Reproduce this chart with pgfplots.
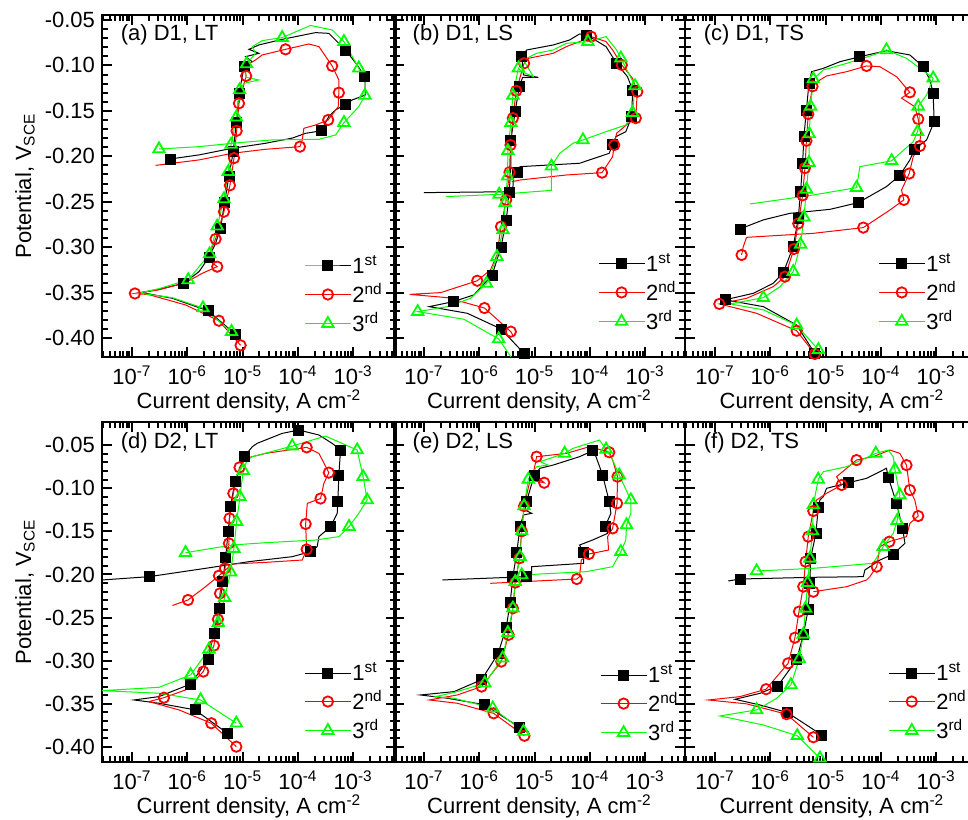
\documentclass[border=0pt]{standalone}
\usepackage{pgfplots}
\pgfplotsset{compat=1.18}
\usepackage{fontspec}
\setmainfont{Liberation Sans}
\definecolor{lgreen}{RGB}{0,255,0}

\pgfplotsset{
  legend image code/.code={\draw[mark repeat=2,mark phase=2,#1] plot coordinates {(0pt,0pt) (11.5pt,0pt) (23pt,0pt)};},
  every axis/.append style={
    scale only axis, xmode=log,
    xmin=2.87e-8,
    xtick={1e-7,1e-6,1e-5,1e-4,1e-3},
    xticklabels={10\textsuperscript{-7},10\textsuperscript{-6},10\textsuperscript{-5},10\textsuperscript{-4},10\textsuperscript{-3}},
    extra x ticks={3e-8,4e-8,5e-8,6e-8,7e-8,8e-8,9e-8,
      2e-7,3e-7,4e-7,5e-7,6e-7,7e-7,8e-7,9e-7,
      2e-6,3e-6,4e-6,5e-6,6e-6,7e-6,8e-6,9e-6,
      2e-5,3e-5,4e-5,5e-5,6e-5,7e-5,8e-5,9e-5,
      2e-4,3e-4,4e-4,5e-4,6e-4,7e-4,8e-4,9e-4,
      2e-3,3e-3,4e-3,5e-3},
    extra x tick labels={},
    extra x tick style={major tick length=3pt},
    ytick={-0.40,-0.35,-0.30,-0.25,-0.20,-0.15,-0.10,-0.05},
    minor y tick num=4,
    tick align=inside,
    major tick length=5pt, minor tick length=3pt,
    tick style={black, line width=1pt},
    axis line style={line width=1.3pt},
    tick label style={font=\fontsize{11}{13}\selectfont},
    label style={font=\fontsize{11}{13}\selectfont},
    xticklabel style={yshift=-1pt},
    xlabel={Current density, A cm\textsuperscript{-2}},
    xlabel style={at={(axis description cs:0.5,-0.131)}, anchor=center},
    legend style={draw=none, fill=none, inner sep=0pt, row sep=2.5pt, anchor=west,
      font=\fontsize{11}{13}\selectfont, nodes={inner sep=0.5pt}},
    legend cell align=left,
  },
  ca/.style={black, line width=0.5pt, mark=none},
  cb/.style={red, line width=0.5pt, mark=none},
  cc/.style={lgreen, line width=0.5pt, mark=none},
  ma/.style={black, only marks, mark=square*, mark size=2.5pt},
  mb/.style={red, only marks, mark=o, mark size=2.6pt, mark options={fill=white, line width=0.9pt}},
  mc/.style={lgreen, only marks, mark=triangle, mark size=3.3pt, mark options={fill=white, line width=0.9pt}},
}

\newcommand{\legs}{%
  \addlegendimage{ca, mark=square*, mark size=2.5pt}
  \addlegendentry{1\textsuperscript{st}}
  \addlegendimage{cb, mark=o, mark size=2.6pt, mark options={fill=white, line width=0.9pt}}
  \addlegendentry{2\textsuperscript{nd}}
  \addlegendimage{cc, mark=triangle, mark size=3.3pt, mark options={fill=white, line width=0.9pt}}
  \addlegendentry{3\textsuperscript{rd}}
}

\begin{document}
\begin{tikzpicture}
\useasboundingbox (0,0) rectangle (484pt,409.5pt);

% (a) D1, LT
\begin{axis}[width=147pt, height=171pt, xmax=5.94e-3, ymin=-0.4209, ymax=-0.0445,
  ylabel={Potential, V\textsubscript{SCE}},
  yticklabels={-0.40,-0.35,-0.30,-0.25,-0.20,-0.15,-0.10,-0.05},
  ylabel style={at={(axis description cs:-0.262,0.5)}, anchor=center},
  at={(51pt,231pt)}, anchor=south west,
  legend style={at={(axis description cs:0.687,0.181)}}]
\addplot[ca, forget plot] coordinates {(7.5e-6,-0.396) (2.36e-6,-0.370) (5.36e-7,-0.3563) (1.77e-7,-0.3508) (1.17e-7,-0.351) (3.08e-7,-0.3464) (8.5e-7,-0.340) (1.63e-6,-0.327) (2.47e-6,-0.311) (3.25e-6,-0.2958) (4.0e-6,-0.279) (4.73e-6,-0.2507) (5.66e-6,-0.222) (6.78e-6,-0.195) (7.69e-6,-0.163) (8.6e-6,-0.131) (9.6e-6,-0.116) (1.06e-5,-0.101) (1.5e-5,-0.0959) (1.13e-5,-0.0904) (1.97e-5,-0.0867) (1.3e-5,-0.0823) (1.97e-5,-0.0775) (5.2e-5,-0.0713) (2.08e-4,-0.0639) (3.63e-4,-0.0647) (7.26e-4,-0.083) (1.18e-3,-0.0995) (1.62e-3,-0.1124) (1.67e-3,-0.1325) (9.6e-4,-0.138) (7.3e-4,-0.1428) (4.8e-4,-0.149) (3.63e-4,-0.156) (2.64e-4,-0.172) (1.38e-4,-0.1747) (7.9e-5,-0.180) (2.6e-5,-0.1857) (6.5e-6,-0.1912) (1.63e-6,-0.1985) (4.86e-7,-0.203)};
\addplot[ma, forget plot] coordinates {(7.5e-6,-0.396) (2.36e-6,-0.370) (8.5e-7,-0.340) (2.47e-6,-0.311) (4.0e-6,-0.279) (4.73e-6,-0.2507) (5.66e-6,-0.222) (6.78e-6,-0.195) (7.69e-6,-0.163) (8.6e-6,-0.131) (1.06e-5,-0.101) (7.26e-4,-0.083) (1.62e-3,-0.1124) (7.3e-4,-0.1428) (2.64e-4,-0.172) (4.86e-7,-0.203)};
\addplot[cb, forget plot] coordinates {(9.2e-6,-0.408) (3.73e-6,-0.381) (9.3e-7,-0.3636) (2.03e-7,-0.3523) (1.13e-7,-0.351) (3.08e-7,-0.347) (9.3e-7,-0.339) (1.87e-6,-0.3288) (3.48e-6,-0.3215) (2.64e-6,-0.316) (2.4e-6,-0.3105) (3.25e-6,-0.291) (4.6e-6,-0.261) (5.9e-6,-0.232) (7.0e-6,-0.202) (7.8e-6,-0.172) (8.6e-6,-0.1417) (1.16e-5,-0.1116) (1.06e-5,-0.101) (1.72e-5,-0.094) (2.26e-5,-0.0885) (5.98e-5,-0.0823) (1.58e-4,-0.0764) (2.4e-4,-0.0793) (4.17e-4,-0.1006) (5.5e-4,-0.116) (5.5e-4,-0.13) (5.36e-4,-0.1454) (3.53e-4,-0.160) (2.08e-4,-0.1656) (1.28e-4,-0.1692) (1.2e-4,-0.182) (1.09e-4,-0.1894) (2.6e-5,-0.1923) (6.5e-6,-0.1967) (1.63e-6,-0.204) (2.68e-7,-0.210)};
\addplot[mb, forget plot] coordinates {(9.2e-6,-0.408) (3.73e-6,-0.381) (1.13e-7,-0.351) (3.48e-6,-0.3215) (3.25e-6,-0.291) (4.6e-6,-0.261) (5.9e-6,-0.232) (7.0e-6,-0.202) (7.8e-6,-0.172) (8.6e-6,-0.1417) (1.16e-5,-0.1116) (5.98e-5,-0.0823) (4.17e-4,-0.1006) (5.5e-4,-0.13) (3.53e-4,-0.160) (1.09e-4,-0.1894)};
\addplot[cc, forget plot] coordinates {(6.3e-6,-0.393) (1.92e-6,-0.367) (5.36e-7,-0.3556) (1.54e-7,-0.351) (1.25e-7,-0.351) (3.08e-7,-0.3457) (1.04e-6,-0.336) (2.53e-6,-0.3076) (3.48e-6,-0.277) (4.6e-6,-0.247) (5.5e-6,-0.217) (6.2e-6,-0.187) (7.7e-6,-0.157) (8.8e-6,-0.127) (1.06e-5,-0.1197) (1.97e-5,-0.116) (1.13e-5,-0.113) (1.18e-5,-0.0984) (1.72e-5,-0.0867) (1.5e-5,-0.0793) (2.26e-5,-0.0727) (5.2e-5,-0.0694) (1.69e-4,-0.056) (4.17e-4,-0.061) (6.8e-4,-0.0738) (1.26e-3,-0.103) (1.67e-3,-0.1197) (1.63e-3,-0.133) (1.26e-3,-0.1454) (6.8e-4,-0.163) (4.8e-4,-0.1766) (2.4e-4,-0.1813) (3.44e-5,-0.182) (8.6e-6,-0.185) (1.63e-6,-0.1894) (3.08e-7,-0.192)};
\addplot[mc, forget plot] coordinates {(6.3e-6,-0.393) (1.92e-6,-0.367) (1.04e-6,-0.336) (2.53e-6,-0.3076) (3.48e-6,-0.277) (4.6e-6,-0.247) (5.5e-6,-0.217) (6.2e-6,-0.187) (7.7e-6,-0.157) (8.8e-6,-0.127) (1.18e-5,-0.0984) (5.2e-5,-0.0694) (6.8e-4,-0.0738) (1.26e-3,-0.103) (1.63e-3,-0.133) (6.8e-4,-0.163) (3.08e-7,-0.192)};
\legs
\node[anchor=west, font=\fontsize{11}{13}\selectfont] at (rel axis cs:0.04,0.942) {(a) D1, LT};
\end{axis}

% (b) D1, LS
\begin{axis}[width=145.5pt, height=171pt, xmax=5.25e-3, ymin=-0.4209, ymax=-0.0445,
  yticklabels={}, at={(197pt,231pt)}, anchor=south west,
  legend style={at={(axis description cs:0.70,0.187)}}]
\addplot[ca, forget plot] coordinates {(7.2e-6,-0.4223) (6.45e-6,-0.417) (2.47e-6,-0.390) (6.07e-7,-0.3728) (1.25e-7,-0.3655) (3.36e-7,-0.360) (7.98e-7,-0.3526) (1.7e-6,-0.331) (2.47e-6,-0.300) (3.07e-6,-0.271) (3.48e-6,-0.240) (3.72e-6,-0.2114) (3.72e-6,-0.182) (4.46e-6,-0.151) (5.3e-6,-0.1226) (6.1e-6,-0.1131) (1.17e-5,-0.1131) (6.28e-6,-0.1105) (5.86e-6,-0.090) (7.2e-6,-0.083) (2.17e-5,-0.0775) (4.3e-5,-0.072) (6.5e-5,-0.0654) (8.8e-5,-0.0665) (1.96e-4,-0.0793) (3.04e-4,-0.0977) (4.79e-4,-0.1124) (5.9e-4,-0.127) (5.75e-4,-0.156) (4.47e-4,-0.1729) (2.96e-4,-0.1784) (2.58e-4,-0.1865) (2.24e-4,-0.1967) (6.5e-5,-0.2077) (5.47e-6,-0.2114) (4.9e-6,-0.2173) (4.16e-6,-0.2224) (4.05e-6,-0.2353) (3.63e-6,-0.239) (1.0e-7,-0.240)};
\addplot[ma, forget plot] coordinates {(6.45e-6,-0.417) (2.47e-6,-0.390) (3.36e-7,-0.360) (1.7e-6,-0.331) (2.47e-6,-0.300) (3.07e-6,-0.271) (3.48e-6,-0.240) (3.72e-6,-0.182) (4.46e-6,-0.151) (5.3e-6,-0.1226) (5.86e-6,-0.090) (8.8e-5,-0.0665) (3.04e-4,-0.0977) (5.9e-4,-0.127) (5.75e-4,-0.156) (2.58e-4,-0.1865) (4.9e-6,-0.2173)};
\addplot[cb, forget plot] coordinates {(4.16e-6,-0.3985) (3.72e-6,-0.393) (1.24e-6,-0.367) (2.65e-7,-0.3556) (5.5e-8,-0.352) (2.02e-7,-0.350) (9.2e-7,-0.337) (1.59e-6,-0.3251) (2.09e-6,-0.3086) (2.47e-6,-0.2774) (3.07e-6,-0.248) (3.52e-6,-0.2176) (3.67e-6,-0.1876) (4.05e-6,-0.158) (4.65e-6,-0.128) (6.46e-6,-0.0977) (7.7e-6,-0.0922) (2.17e-5,-0.0867) (3.76e-5,-0.0793) (6.5e-5,-0.0738) (1.05e-4,-0.0683) (1.96e-4,-0.0738) (2.58e-4,-0.083) (3.78e-4,-0.0995) (5.9e-4,-0.1142) (7.2e-4,-0.1289) (6.76e-4,-0.158) (4.79e-4,-0.1645) (3.04e-4,-0.1747) (2.76e-4,-0.1876) (2.58e-4,-0.2004) (1.66e-4,-0.218) (3.76e-5,-0.2206) (5.47e-6,-0.2261) (3.88e-6,-0.228)};
\addplot[mb, forget plot] coordinates {(3.72e-6,-0.393) (1.24e-6,-0.367) (9.2e-7,-0.337) (2.47e-6,-0.2774) (3.07e-6,-0.248) (3.52e-6,-0.2176) (3.67e-6,-0.1876) (4.05e-6,-0.158) (4.65e-6,-0.128) (6.46e-6,-0.0977) (1.05e-4,-0.0683) (3.78e-4,-0.0995) (7.2e-4,-0.1289) (6.76e-4,-0.158) (2.76e-4,-0.1876) (1.66e-4,-0.218)};
\addplot[cc, forget plot] coordinates {(3.88e-6,-0.4223) (2.24e-6,-0.401) (5.28e-7,-0.3794) (7.7e-8,-0.371) (2.65e-7,-0.3655) (6.95e-7,-0.3563) (1.35e-6,-0.34) (2.09e-6,-0.3105) (2.68e-6,-0.281) (2.95e-6,-0.251) (3.25e-6,-0.222) (3.29e-6,-0.194) (3.72e-6,-0.163) (4.05e-6,-0.133) (5.1e-6,-0.103) (5.86e-6,-0.1069) (9.5e-6,-0.1124) (6.28e-6,-0.094) (1.09e-5,-0.0867) (2.17e-5,-0.083) (3.76e-5,-0.0757) (9.2e-5,-0.0738) (1.96e-4,-0.0683) (3.04e-4,-0.083) (3.63e-4,-0.092) (6.56e-4,-0.1226) (5.9e-4,-0.152) (4.47e-4,-0.1656) (1.96e-4,-0.1729) (7.5e-5,-0.182) (4.94e-5,-0.1857) (2.85e-5,-0.1967) (2.02e-5,-0.211) (2.02e-5,-0.2375) (2.29e-6,-0.2419) (2.48e-7,-0.2444)};
\addplot[mc, forget plot] coordinates {(2.24e-6,-0.401) (7.7e-8,-0.371) (1.35e-6,-0.34) (2.09e-6,-0.3105) (2.68e-6,-0.281) (2.95e-6,-0.251) (3.25e-6,-0.222) (3.29e-6,-0.194) (3.72e-6,-0.163) (4.05e-6,-0.133) (5.1e-6,-0.103) (9.2e-5,-0.0738) (3.63e-4,-0.092) (6.56e-4,-0.1226) (5.9e-4,-0.152) (7.5e-5,-0.182) (2.02e-5,-0.211) (2.29e-6,-0.2419)};
\legs
\node[anchor=west, font=\fontsize{11}{13}\selectfont] at (rel axis cs:0.04,0.942) {(b) D1, LS};
\end{axis}

% (c) D1, TS
\begin{axis}[width=147pt, height=171pt, xmax=5.94e-3, ymin=-0.4209, ymax=-0.0445,
  yticklabels={}, at={(342.5pt,231pt)}, anchor=south west,
  legend style={at={(axis description cs:0.656,0.187)}}]
\addplot[ca, forget plot] coordinates {(6.4e-6,-0.417) (2.99e-6,-0.3857) (7.5e-7,-0.3655) (1.52e-7,-0.358) (4.93e-7,-0.3508) (1.13e-6,-0.3398) (1.72e-6,-0.328) (2.6e-6,-0.2995) (3.2e-6,-0.268) (3.53e-6,-0.239) (3.84e-6,-0.2077) (4.06e-6,-0.178) (4.5e-6,-0.149) (5.0e-6,-0.1197) (5.58e-6,-0.1069) (9.1e-6,-0.1032) (1.82e-5,-0.0959) (4.17e-5,-0.0904) (1.26e-4,-0.0838) (3.34e-4,-0.0885) (5.82e-4,-0.1014) (7.7e-4,-0.116) (8.8e-4,-0.1307) (9.2e-4,-0.162) (6.7e-4,-0.182) (4.1e-4,-0.192) (3.34e-4,-0.204) (2.2e-4,-0.221) (1.26e-4,-0.2334) (3.9e-5,-0.251) (1.2e-5,-0.2584) (2.26e-6,-0.2628) (7.5e-7,-0.270) (2.83e-7,-0.280)};
\addplot[ma, forget plot] coordinates {(6.4e-6,-0.417) (1.52e-7,-0.358) (1.72e-6,-0.328) (2.6e-6,-0.2995) (3.2e-6,-0.268) (3.53e-6,-0.239) (3.84e-6,-0.2077) (4.06e-6,-0.178) (4.5e-6,-0.149) (5.0e-6,-0.1197) (4.17e-5,-0.0904) (5.82e-4,-0.1014) (8.8e-4,-0.1307) (9.2e-4,-0.162) (4.1e-4,-0.192) (2.2e-4,-0.221) (3.9e-5,-0.251) (2.83e-7,-0.280)};
\addplot[cb, forget plot] coordinates {(6.4e-6,-0.4176) (3.0e-6,-0.392) (5.66e-7,-0.3728) (1.2e-7,-0.3625) (3.73e-7,-0.3563) (1.13e-6,-0.3435) (1.84e-6,-0.3325) (2.68e-6,-0.302) (3.2e-6,-0.274) (3.84e-6,-0.243) (4.23e-6,-0.213) (4.5e-6,-0.183) (4.86e-6,-0.1535) (5.8e-6,-0.123) (7.9e-6,-0.116) (1.04e-5,-0.1116) (2.4e-5,-0.1069) (5.5e-5,-0.1006) (9.6e-5,-0.1014) (1.92e-4,-0.1124) (3.34e-4,-0.1296) (2.36e-4,-0.136) (4.1e-4,-0.1454) (4.73e-4,-0.159) (5.2e-4,-0.1747) (5.07e-4,-0.1887) (3.84e-4,-0.2004) (3.25e-4,-0.219) (2.36e-4,-0.2371) (2.6e-4,-0.248) (1.46e-4,-0.2591) (4.8e-5,-0.2785) (6.0e-6,-0.2848) (3.73e-7,-0.2892) (3.25e-7,-0.2995) (3.03e-7,-0.3086)};
\addplot[mb, forget plot] coordinates {(6.4e-6,-0.4176) (3.0e-6,-0.392) (1.2e-7,-0.3625) (1.84e-6,-0.3325) (2.68e-6,-0.302) (3.2e-6,-0.274) (3.84e-6,-0.243) (4.23e-6,-0.213) (4.5e-6,-0.183) (4.86e-6,-0.1535) (5.8e-6,-0.123) (5.5e-5,-0.1006) (3.34e-4,-0.1296) (4.73e-4,-0.159) (5.07e-4,-0.1887) (3.25e-4,-0.219) (2.6e-4,-0.248) (4.8e-5,-0.2785) (3.03e-7,-0.3086)};
\addplot[cc, forget plot] coordinates {(7.4e-6,-0.413) (3.0e-6,-0.386) (7.5e-7,-0.369) (1.87e-7,-0.3625) (7.5e-7,-0.3556) (1.5e-6,-0.3435) (2.6e-6,-0.327) (3.53e-6,-0.297) (4.06e-6,-0.267) (4.5e-6,-0.2364) (5.0e-6,-0.207) (5.07e-6,-0.1755) (5.36e-6,-0.145) (6.0e-6,-0.115) (9.1e-6,-0.105) (2.4e-5,-0.0977) (7.26e-5,-0.0885) (1.26e-4,-0.083) (2.91e-4,-0.0922) (8.8e-4,-0.114) (6.7e-4,-0.1325) (4.73e-4,-0.145) (5.07e-4,-0.160) (4.6e-4,-0.173) (3.84e-4,-0.1839) (1.56e-4,-0.205) (4.17e-5,-0.2114) (3.63e-5,-0.2345) (6.0e-6,-0.2426) (4.3e-7,-0.2525)};
\addplot[mc, forget plot] coordinates {(7.4e-6,-0.413) (3.0e-6,-0.386) (7.5e-7,-0.3556) (2.6e-6,-0.327) (3.53e-6,-0.297) (4.06e-6,-0.267) (4.5e-6,-0.2364) (5.0e-6,-0.207) (5.07e-6,-0.1755) (5.36e-6,-0.145) (6.0e-6,-0.115) (1.26e-4,-0.083) (8.8e-4,-0.114) (4.73e-4,-0.145) (4.6e-4,-0.173) (1.56e-4,-0.205) (3.63e-5,-0.2345)};
\legs
\node[anchor=west, font=\fontsize{11}{13}\selectfont] at (rel axis cs:0.04,0.942) {(c) D1, TS};
\end{axis}

% (d) D2, LT
\begin{axis}[width=147pt, height=170pt, xmax=5.94e-3, ymin=-0.4174, ymax=-0.0233,
  ylabel={Potential, V\textsubscript{SCE}},
  yticklabels={-0.40,-0.35,-0.30,-0.25,-0.20,-0.15,-0.10,-0.05},
  ylabel style={at={(axis description cs:-0.262,0.5)}, anchor=center},
  at={(51pt,28.5pt)}, anchor=south west,
  legend style={at={(axis description cs:0.687,0.176)}}]
\addplot[ca, forget plot] coordinates {(5.3e-6,-0.384) (1.38e-6,-0.357) (3.08e-7,-0.3493) (1.09e-7,-0.3455) (3.08e-7,-0.3416) (1.15e-6,-0.327) (2.36e-6,-0.299) (3.03e-6,-0.268) (3.73e-6,-0.239) (4.4e-6,-0.208) (4.93e-6,-0.180) (5.5e-6,-0.150) (6.07e-6,-0.1207) (7.3e-6,-0.0917) (1.1e-5,-0.0627) (1.5e-5,-0.0519) (1.84e-5,-0.048) (5.2e-5,-0.0365) (1.04e-4,-0.0326) (2.4e-4,-0.0384) (4.17e-4,-0.0481) (5.9e-4,-0.0558) (5.5e-4,-0.085) (5.28e-4,-0.115) (5.14e-4,-0.1292) (3.9e-4,-0.1446) (2.4e-4,-0.1562) (2.23e-4,-0.1678) (1.69e-4,-0.1736) (7.9e-5,-0.1794) (1.3e-5,-0.1852) (2.14e-6,-0.1929) (2.03e-7,-0.2026) (2.9e-8,-0.2064)};
\addplot[ma, forget plot] coordinates {(5.3e-6,-0.384) (1.38e-6,-0.357) (1.15e-6,-0.327) (2.36e-6,-0.299) (3.03e-6,-0.268) (3.73e-6,-0.239) (4.4e-6,-0.208) (4.93e-6,-0.180) (5.5e-6,-0.150) (6.07e-6,-0.1207) (7.3e-6,-0.0917) (1.1e-5,-0.0627) (1.04e-4,-0.0326) (5.9e-4,-0.0558) (5.5e-4,-0.085) (5.28e-4,-0.115) (3.9e-4,-0.1446) (1.69e-4,-0.1736) (2.03e-7,-0.2026)};
\addplot[cb, forget plot] coordinates {(7.7e-6,-0.3996) (2.72e-6,-0.3725) (7.06e-7,-0.357) (2.03e-7,-0.3474) (3.79e-7,-0.3428) (9.3e-7,-0.3339) (1.95e-6,-0.3126) (3.03e-6,-0.2825) (3.58e-6,-0.252) (3.9e-6,-0.222) (4.8e-6,-0.193) (5.66e-6,-0.164) (5.8e-6,-0.135) (6.8e-6,-0.106) (8.8e-6,-0.0759) (1.13e-5,-0.0654) (2.6e-5,-0.0597) (1.44e-4,-0.0527) (2.4e-4,-0.0597) (3.63e-4,-0.082) (2.95e-4,-0.0944) (2.57e-4,-0.112) (1.48e-4,-0.1176) (1.38e-4,-0.1415) (1.44e-4,-0.171) (1.2e-4,-0.1833) (2.6e-5,-0.186) (6.5e-6,-0.1879) (3.73e-6,-0.2015) (2.14e-6,-0.2142) (1.03e-6,-0.2296) (5.4e-7,-0.236)};
\addplot[mb, forget plot] coordinates {(7.7e-6,-0.3996) (2.72e-6,-0.3725) (3.79e-7,-0.3428) (1.95e-6,-0.3126) (3.03e-6,-0.2825) (3.58e-6,-0.252) (3.9e-6,-0.222) (4.8e-6,-0.193) (5.66e-6,-0.164) (5.8e-6,-0.135) (6.8e-6,-0.106) (8.8e-6,-0.0759) (1.44e-4,-0.0527) (3.63e-4,-0.082) (2.57e-4,-0.112) (1.38e-4,-0.1415) (1.44e-4,-0.171) (3.73e-6,-0.2015) (1.03e-6,-0.2296)};
\addplot[cc, forget plot] coordinates {(7.7e-6,-0.3725) (1.74e-6,-0.3455) (3.08e-7,-0.3377) (2.9e-8,-0.3347) (3.08e-7,-0.3308) (1.15e-6,-0.3165) (2.47e-6,-0.2868) (3.63e-6,-0.256) (4.73e-6,-0.227) (6.07e-6,-0.1975) (6.97e-6,-0.17) (7.8e-6,-0.1388) (8.95e-6,-0.11) (1.03e-5,-0.0797) (1.21e-5,-0.0674) (1.5e-5,-0.0635) (7.9e-5,-0.0512) (3.16e-4,-0.0396) (1.18e-3,-0.0558) (1.51e-3,-0.0867) (1.79e-3,-0.1137) (1.26e-3,-0.1292) (8.4e-4,-0.1446) (5.5e-4,-0.1562) (2.08e-4,-0.1601) (2.6e-5,-0.1632) (6.5e-6,-0.1659) (9.3e-7,-0.1748)};
\addplot[mc, forget plot] coordinates {(7.7e-6,-0.3725) (1.74e-6,-0.3455) (1.15e-6,-0.3165) (2.47e-6,-0.2868) (3.63e-6,-0.256) (4.73e-6,-0.227) (6.07e-6,-0.1975) (6.97e-6,-0.17) (7.8e-6,-0.1388) (8.95e-6,-0.11) (1.03e-5,-0.0797) (7.9e-5,-0.0512) (1.18e-3,-0.0558) (1.51e-3,-0.0867) (1.79e-3,-0.1137) (8.4e-4,-0.1446) (9.3e-7,-0.1748)};
\legs
\node[anchor=west, font=\fontsize{11}{13}\selectfont] at (rel axis cs:0.04,0.938) {(d) D2, LT};
\end{axis}

% (e) D2, LS
\begin{axis}[width=145.5pt, height=170pt, xmax=5.25e-3, ymin=-0.4174, ymax=-0.0233,
  yticklabels={}, at={(197pt,28.5pt)}, anchor=south west,
  legend style={at={(axis description cs:0.707,0.17)}}]
\addplot[ca, forget plot] coordinates {(5.3e-6,-0.377) (1.24e-6,-0.351) (2.65e-7,-0.3435) (8.6e-8,-0.3397) (3.5e-7,-0.3358) (1.1e-6,-0.322) (2.18e-6,-0.292) (3.07e-6,-0.2617) (3.63e-6,-0.232) (4.05e-6,-0.2026) (4.77e-6,-0.1744) (5.47e-6,-0.1439) (6.28e-6,-0.1311) (8.85e-6,-0.1292) (6.7e-6,-0.1253) (7.2e-6,-0.115) (9.8e-6,-0.0855) (1.25e-5,-0.077) (2.17e-5,-0.0732) (6.5e-5,-0.0635) (1.13e-4,-0.0566) (1.29e-4,-0.0635) (1.7e-4,-0.0848) (2.24e-4,-0.1157) (2.4e-4,-0.1292) (1.9e-4,-0.1439) (2.09e-4,-0.1524) (1.13e-4,-0.160) (6.5e-5,-0.1659) (7.7e-5,-0.1744) (7.7e-5,-0.1871) (8.85e-6,-0.191) (8.85e-6,-0.1987) (7.2e-6,-0.2026) (2.16e-7,-0.2064)};
\addplot[ma, forget plot] coordinates {(5.3e-6,-0.377) (1.24e-6,-0.351) (1.1e-6,-0.322) (2.18e-6,-0.292) (3.07e-6,-0.2617) (3.63e-6,-0.232) (4.05e-6,-0.2026) (4.77e-6,-0.1744) (5.47e-6,-0.1439) (7.2e-6,-0.115) (9.8e-6,-0.0855) (1.13e-4,-0.0566) (1.7e-4,-0.0848) (2.24e-4,-0.1157) (1.9e-4,-0.1439) (7.7e-5,-0.1744) (7.2e-6,-0.2026)};
\addplot[cb, forget plot] coordinates {(6.55e-6,-0.387) (1.82e-6,-0.361) (4.0e-7,-0.3493) (1.25e-7,-0.3455) (4.0e-7,-0.3397) (1.1e-6,-0.33) (2.5e-6,-0.301) (3.39e-6,-0.27) (4.05e-6,-0.2393) (4.47e-6,-0.2095) (5.3e-6,-0.1813) (5.86e-6,-0.150) (6.46e-6,-0.1207) (8.3e-6,-0.0906) (1.49e-5,-0.0937) (9.5e-6,-0.0828) (1.09e-5,-0.0635) (3.76e-5,-0.0597) (9.8e-5,-0.0519) (2.24e-4,-0.0584) (2.58e-4,-0.0674) (3.16e-4,-0.0867) (3.1e-4,-0.1176) (2.58e-4,-0.1466) (2.09e-4,-0.1562) (2.18e-4,-0.1717) (9.6e-5,-0.1763) (7.0e-5,-0.1833) (6.5e-5,-0.2026) (5.8e-5,-0.2053) (1.58e-6,-0.2103)};
\addplot[mb, forget plot] coordinates {(6.55e-6,-0.387) (1.82e-6,-0.361) (1.1e-6,-0.33) (2.5e-6,-0.301) (3.39e-6,-0.27) (4.05e-6,-0.2393) (4.47e-6,-0.2095) (5.3e-6,-0.1813) (5.86e-6,-0.150) (6.46e-6,-0.1207) (1.49e-5,-0.0937) (1.09e-5,-0.0635) (2.24e-4,-0.0584) (3.16e-4,-0.0867) (3.1e-4,-0.1176) (2.58e-4,-0.1466) (9.6e-5,-0.1763) (5.8e-5,-0.2053)};
\addplot[cc, forget plot] coordinates {(6.3e-6,-0.382) (1.75e-6,-0.355) (3.5e-7,-0.3435) (1.64e-7,-0.3416) (4.0e-7,-0.3358) (1.26e-6,-0.326) (2.64e-6,-0.297) (3.29e-6,-0.2675) (4.05e-6,-0.239) (4.46e-6,-0.2084) (5.47e-6,-0.1794) (5.86e-6,-0.1497) (6.46e-6,-0.1207) (7.7e-6,-0.0898) (1.09e-5,-0.0751) (1.76e-5,-0.0732) (1.25e-5,-0.0693) (3.5e-5,-0.0597) (4.94e-5,-0.0539) (1.49e-4,-0.0442) (1.96e-4,-0.055) (2.58e-4,-0.0674) (3.39e-4,-0.0848) (5.5e-4,-0.1137) (5.5e-4,-0.1292) (4.6e-4,-0.1427) (4.47e-4,-0.160) (3.63e-4,-0.1736) (2.58e-4,-0.191) (8.6e-5,-0.1968) (5.86e-6,-0.2006)};
\addplot[mc, forget plot] coordinates {(6.3e-6,-0.382) (1.75e-6,-0.355) (1.26e-6,-0.326) (2.64e-6,-0.297) (3.29e-6,-0.2675) (4.05e-6,-0.239) (4.46e-6,-0.2084) (5.47e-6,-0.1794) (5.86e-6,-0.1497) (6.46e-6,-0.1207) (7.7e-6,-0.0898) (3.5e-5,-0.0597) (1.96e-4,-0.055) (3.39e-4,-0.0848) (5.5e-4,-0.1137) (4.6e-4,-0.1427) (3.63e-4,-0.1736) (5.86e-6,-0.2006)};
\legs
\node[anchor=west, font=\fontsize{11}{13}\selectfont] at (rel axis cs:0.04,0.938) {(e) D2, LS};
\end{axis}

% (f) D2, TS
\begin{axis}[width=147pt, height=170pt, xmax=5.94e-3, ymin=-0.4174, ymax=-0.0233,
  yticklabels={}, at={(342.5pt,28.5pt)}, anchor=south west,
  legend style={at={(axis description cs:0.69,0.176)}}]
\addplot[ca, forget plot] coordinates {(8.5e-6,-0.386) (2.03e-6,-0.36) (6.5e-7,-0.3513) (2.3e-7,-0.3447) (6.5e-7,-0.3378) (1.36e-6,-0.3293) (2.99e-6,-0.299) (3.95e-6,-0.270) (4.86e-6,-0.2404) (5.2e-6,-0.2103) (5.36e-6,-0.1813) (6.68e-6,-0.1524) (7.36e-6,-0.1226) (7.9e-6,-0.1137) (9.1e-6,-0.1099) (1.04e-5,-0.1002) (2.57e-5,-0.0937) (5.5e-5,-0.0886) (1.26e-4,-0.077) (1.36e-4,-0.0875) (1.92e-4,-0.1176) (2.47e-4,-0.1466) (2.72e-4,-0.164) (1.67e-4,-0.1763) (9.6e-5,-0.1833) (5.14e-5,-0.1948) (4.8e-5,-0.2026) (6.0e-6,-0.2033) (2.83e-7,-0.2053) (1.74e-7,-0.2076)};
\addplot[ma, forget plot] coordinates {(8.5e-6,-0.386) (2.03e-6,-0.36) (1.36e-6,-0.3293) (2.99e-6,-0.299) (3.95e-6,-0.270) (4.86e-6,-0.2404) (5.2e-6,-0.2103) (5.36e-6,-0.1813) (6.68e-6,-0.1524) (7.36e-6,-0.1226) (2.57e-5,-0.0937) (1.36e-4,-0.0875) (1.92e-4,-0.1176) (2.47e-4,-0.1466) (1.67e-4,-0.1763) (2.83e-7,-0.2053)};
\addplot[cb, forget plot] coordinates {(6.0e-6,-0.3887) (1.97e-6,-0.362) (3.73e-7,-0.350) (7.6e-8,-0.3455) (2.83e-7,-0.3416) (8.4e-7,-0.333) (2.1e-6,-0.303) (2.79e-6,-0.2733) (3.3e-6,-0.2431) (3.95e-6,-0.2141) (4.35e-6,-0.1852) (4.86e-6,-0.1562) (6.0e-6,-0.1265) (6.87e-6,-0.1137) (1.04e-5,-0.106) (1.95e-5,-0.0963) (1.58e-5,-0.0867) (3.63e-5,-0.0674) (7.26e-5,-0.0635) (1.46e-4,-0.0558) (2.2e-4,-0.0597) (2.9e-4,-0.0733) (3.34e-4,-0.1022) (4.1e-4,-0.1137) (4.73e-4,-0.1323) (3.34e-4,-0.1408) (2.9e-4,-0.1562) (1.42e-4,-0.162) (9.6e-5,-0.1678) (8.4e-5,-0.191) (6.3e-5,-0.2026) (5.5e-5,-0.2064) (2.4e-5,-0.2142) (6.0e-6,-0.22)};
\addplot[mb, forget plot] coordinates {(6.0e-6,-0.3887) (1.97e-6,-0.362) (8.4e-7,-0.333) (2.1e-6,-0.303) (2.79e-6,-0.2733) (3.3e-6,-0.2431) (3.95e-6,-0.2141) (4.35e-6,-0.1852) (4.86e-6,-0.1562) (6.0e-6,-0.1265) (1.95e-5,-0.0963) (3.63e-5,-0.0674) (2.9e-4,-0.0733) (3.34e-4,-0.1022) (4.73e-4,-0.1323) (1.42e-4,-0.162) (8.4e-5,-0.191) (6.0e-6,-0.22)};
\addplot[cc, forget plot] coordinates {(7.9e-6,-0.413) (3.08e-6,-0.387) (7.5e-7,-0.3745) (1.23e-7,-0.364) (5.66e-7,-0.357) (1.3e-6,-0.3436) (2.36e-6,-0.328) (3.34e-6,-0.298) (3.95e-6,-0.2694) (4.35e-6,-0.2393) (4.73e-6,-0.2095) (5.2e-6,-0.1813) (5.8e-6,-0.1497) (6.0e-6,-0.1195) (7.36e-6,-0.0898) (9.1e-6,-0.0809) (2.4e-5,-0.0751) (8.1e-5,-0.0597) (1.36e-4,-0.0558) (1.67e-4,-0.0635) (1.79e-4,-0.0782) (2.2e-4,-0.108) (1.97e-4,-0.1377) (1.67e-4,-0.1524) (1.1e-4,-0.1678) (7.26e-5,-0.1871) (6.0e-6,-0.1929) (5.66e-7,-0.196)};
\addplot[mc, forget plot] coordinates {(7.9e-6,-0.413) (3.08e-6,-0.387) (5.66e-7,-0.357) (2.36e-6,-0.328) (3.34e-6,-0.298) (3.95e-6,-0.2694) (4.35e-6,-0.2393) (4.73e-6,-0.2095) (5.2e-6,-0.1813) (5.8e-6,-0.1497) (6.0e-6,-0.1195) (7.36e-6,-0.0898) (8.1e-5,-0.0597) (1.79e-4,-0.0782) (2.2e-4,-0.108) (1.97e-4,-0.1377) (1.1e-4,-0.1678) (5.66e-7,-0.196)};
\legs
\node[anchor=west, font=\fontsize{11}{13}\selectfont] at (rel axis cs:0.04,0.938) {(f) D2, TS};
\end{axis}
\end{tikzpicture}
\end{document}
